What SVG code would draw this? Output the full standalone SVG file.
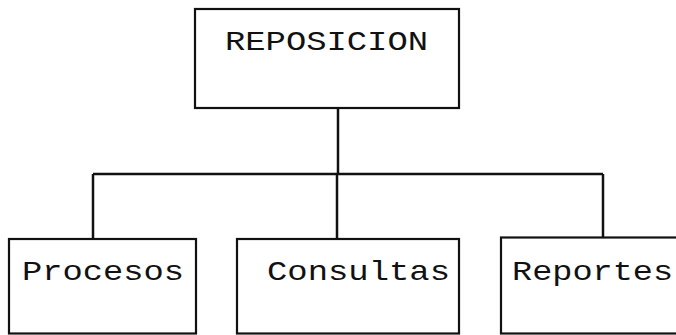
<svg xmlns="http://www.w3.org/2000/svg" width="676" height="335" viewBox="0 0 676 335">
<style>
.box{fill:#fff;stroke:#111;stroke-width:2.2}
.lbl{font-family:"Liberation Mono","DejaVu Sans Mono",monospace;font-size:28px;fill:#111}
.con{fill:none;stroke:#111;stroke-width:2.5}
</style>
<rect width="676" height="335" fill="#fff"/>
<g id="connectors">
<path class="con" d="M338,108 V174"/>
<path class="con" d="M93,174 H603"/>
<path class="con" d="M93,174 V239"/>
<path class="con" d="M337,174 V239"/>
<path class="con" d="M603,174 V237"/>
</g>
<g id="reposicion">
<rect class="box" x="195" y="9" width="264" height="99"/>
<text class="lbl" x="225" y="50" textLength="203" lengthAdjust="spacingAndGlyphs">REPOSICION</text>
</g>
<g id="procesos">
<rect class="box" x="9" y="239" width="187" height="94.5"/>
<text class="lbl" x="22" y="280" textLength="162" lengthAdjust="spacingAndGlyphs">Procesos</text>
</g>
<g id="consultas">
<rect class="box" x="237" y="239" width="222" height="94.5"/>
<text class="lbl" x="267" y="280" textLength="183" lengthAdjust="spacingAndGlyphs">Consultas</text>
</g>
<g id="reportes">
<rect class="box" x="501" y="237.5" width="190" height="96"/>
<text class="lbl" x="512" y="280" textLength="161" lengthAdjust="spacingAndGlyphs">Reportes</text>
</g>
</svg>
